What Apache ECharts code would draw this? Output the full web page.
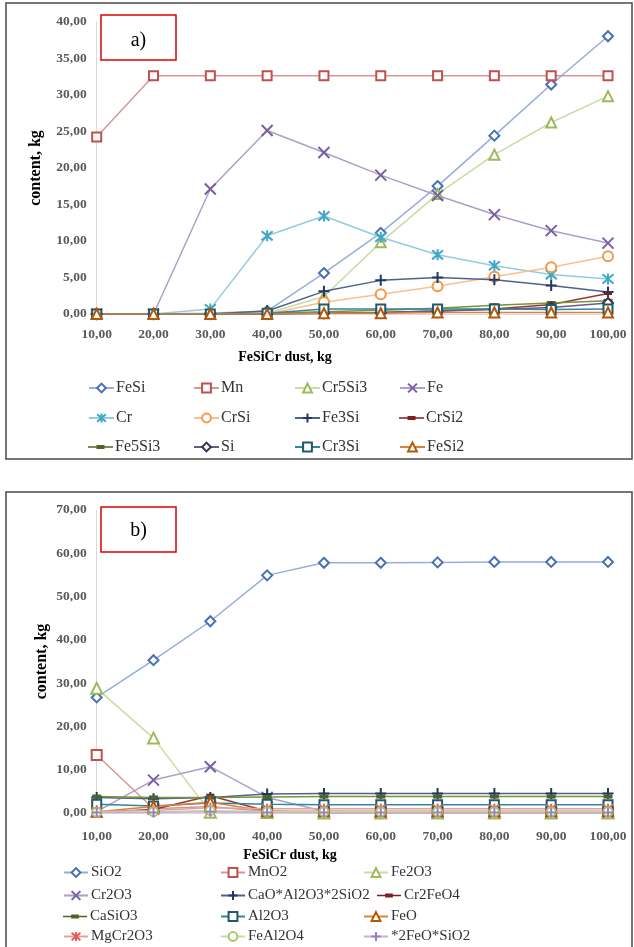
<!DOCTYPE html>
<html><head><meta charset="utf-8">
<script src="https://cdn.jsdelivr.net/npm/echarts@6/dist/echarts.min.js"></script>
<style>html,body{margin:0;padding:0;background:#fff}#c{width:634px;height:947px}</style>
</head><body><div id="c"></div>
<script>
// ---------- DATA ----------
const xLabels = ['10,00','20,00','30,00','40,00','50,00','60,00','70,00','80,00','90,00','100,00'];
const yTicksA = [0,5,10,15,20,25,30,35,40];
const yTicksB = [0,10,20,30,40,50,60,70];

// panel a)
const FeSi   = [0,0,0.1,0.4,5.6,11.1,17.5,24.4,31.4,38.0];
const Mn     = [24.2,32.6,32.6,32.6,32.6,32.6,32.6,32.6,32.6,32.6];
const Cr5Si3 = [0,0,0,0.1,2.4,9.8,16.4,21.8,26.2,29.8];
const Fe     = [0,0,17.1,25.1,22.1,19.0,16.2,13.6,11.4,9.7];
const Cr     = [0,0,0.7,10.7,13.4,10.5,8.1,6.6,5.4,4.8];
const CrSi   = [0,0,0,0,1.6,2.7,3.8,5.1,6.4,7.9];
const Fe3Si  = [0,0,0,0.4,3.1,4.6,5.0,4.7,3.9,3.0];
const CrSi2  = [0,0,0,0,0.1,0.2,0.4,0.7,1.3,2.8];
const Fe5Si3 = [0,0,0,0.1,0.3,0.5,0.8,1.2,1.5,1.8];
const Si     = [0,0,0,0,0.1,0.2,0.4,0.6,0.9,1.5];
const Cr3Si  = [0,0,0,0.1,0.7,0.7,0.7,0.7,0.6,0.7];
const FeSi2  = [0,0,0,0,0.1,0.1,0.2,0.2,0.2,0.2];

// panel b)
const SiO2      = [26.7,35.3,44.3,54.9,57.8,57.8,57.9,58.0,58.0,58.0];
const MnO2      = [13.4,1.0,1.5,0.3,0.2,0.2,0.2,0.2,0.2,0.2];
const Fe2O3     = [28.8,17.3,0.2,0.1,0,0,0,0,0,0];
const Cr2O3     = [0.3,7.6,10.7,3.6,0.4,0.2,0.2,0.2,0.2,0.2];
const CaOAl2O3  = [3.6,3.3,3.6,4.4,4.5,4.5,4.5,4.5,4.5,4.5];
const Cr2FeO4   = [0.2,0.8,4.0,0.4,0.1,0.1,0.1,0.1,0.1,0.1];
const CaSiO3    = [3.8,3.6,3.6,3.7,3.8,3.8,3.8,3.8,3.8,3.8];
const Al2O3     = [2.0,1.6,2.3,2.0,1.9,1.9,1.9,1.9,1.9,1.9];
const FeO       = [0.3,1.5,2.5,0.4,0.4,0.4,0.4,0.4,0.4,0.4];
const MgCr2O3   = [0.4,0.6,1.2,1.0,1.0,1.0,1.0,1.0,1.0,1.0];
const FeAl2O4   = [0.2,0.3,0.6,0.3,0.3,0.3,0.3,0.3,0.3,0.3];
const FeO2SiO2  = [0.1,0.1,0.3,0.1,0.1,0.1,0.1,0.1,0.1,0.1];

const seriesA = [['FeSi',FeSi],['Mn',Mn],['Cr5Si3',Cr5Si3],['Fe',Fe],['Cr',Cr],['CrSi',CrSi],
  ['Fe3Si',Fe3Si],['CrSi2',CrSi2],['Fe5Si3',Fe5Si3],['Si',Si],['Cr3Si',Cr3Si],['FeSi2',FeSi2]];
const seriesB = [['SiO2',SiO2],['MnO2',MnO2],['Fe2O3',Fe2O3],['Cr2O3',Cr2O3],['CaO*Al2O3*2SiO2',CaOAl2O3],
  ['Cr2FeO4',Cr2FeO4],['CaSiO3',CaSiO3],['Al2O3',Al2O3],['FeO',FeO],['MgCr2O3',MgCr2O3],['FeAl2O4',FeAl2O4],['*2FeO*SiO2',FeO2SiO2]];

// ---------- STYLE ----------
const SERIF = '"Liberation Serif","Times New Roman",serif';
const P_X = 'path://M0,0L10,10M10,0L0,10';
const P_AST = 'path://M0,0L10,10M10,0L0,10M5,-1L5,11';
const P_PLUS = 'path://M5,0L5,10M0,5L10,5';
const DASH_ICON = 'path://M0,0L0.01,0L0.01,0.01Z M0,4.3L25,4.3L25,5.7L0,5.7Z M8.5,3L16.5,3L16.5,7L8.5,7Z M0,10L0.01,10L0.01,9.99Z';
// [symbol, markerColor, lineColor, hollow, size]
const styleA = [
  ['diamond','#4A6FB5','#95AEDA',true,10],
  ['rect','#C0504D','#D99694',true,9],
  ['triangle','#9BBB59','#C9DCA3',true,10],
  [P_X,'#7A5FA0','#ADA0C9',false,11],
  [P_AST,'#3FA8C4','#93CDDD',false,11],
  ['circle','#F79646','#FAC090',true,10],
  [P_PLUS,'#1F3864','#4F6288',false,11],
  ['rect','#7B1F1F','#953735',false,[8,3]],
  ['rect','#4F6228','#77933C',false,[9,4]],
  ['diamond','#3F3151','#6A5A85',true,10],
  ['rect','#215968','#31859C',true,9],
  ['triangle','#B65708','#D8823A',true,10]
];
const styleB = [
  ['diamond','#4A6FB5','#95AEDA',true,10],
  ['rect','#C0504D','#D99694',true,10],
  ['triangle','#9BBB59','#C9DCA3',true,11],
  [P_X,'#7A5FA0','#ADA0C9',false,11],
  [P_PLUS,'#1F3864','#4F6288',false,11],
  ['rect','#7B1F1F','#953735',false,[8,4]],
  ['rect','#4F6228','#77933C',false,[9,4]],
  ['rect','#215968','#31859C',true,9],
  ['triangle','#B65708','#D8823A',true,10],
  [P_AST,'#E0605C','#E6A0A0',false,10],
  ['circle','#A6C86A','#C9DCA3',true,9],
  [P_PLUS,'#9A80C0','#C0B2D8',false,10]
];

function mk(def, st, gi) {
  const [sym, mc, lc, hollow, size] = st;
  return {
    type: 'line', name: def[0], data: def[1], xAxisIndex: gi, yAxisIndex: gi,
    symbol: sym, symbolSize: size, showSymbol: true,
    lineStyle: { color: lc, width: 1.5 },
    itemStyle: { color: hollow ? '#ffffff' : mc, borderColor: mc, borderWidth: (sym.indexOf('path') === 0) ? 2 : (hollow ? 2 : 0) },
    emphasis: { disabled: true }, animation: false
  };
}

const fmt = v => v.toFixed(2).replace('.', ',');

const series = [];
seriesA.forEach((d, i) => series.push(mk(d, styleA[i], 0)));
seriesB.forEach((d, i) => series.push(mk(d, styleB[i], 1)));

function legendItem(name, st) {
  return Array.isArray(st[4]) ? { name: name, icon: DASH_ICON } : { name: name };
}

// legend positions
const colsA = [88, 193, 294, 399], rowsA = [388, 418, 447];
const colsB = [63, 220, 363], rowsB = [873, 896, 917, 937];
const legends = [];
seriesA.forEach((d, i) => {
  legends.push({ data: [legendItem(d[0], styleA[i])], left: colsA[i % 4], top: rowsA[Math.floor(i / 4)] - 8, padding: 0,
    itemWidth: 25, itemHeight: 11, selectedMode: false,
    textStyle: { fontFamily: SERIF, fontSize: 16, color: '#333', padding: [0,0,0,-3] } });
});
seriesB.forEach((d, i) => {
  let left = colsB[i % 3];
  if (d[0] === 'Cr2FeO4') left = 377;
  legends.push({ data: [legendItem(d[0], styleB[i])], left: left, top: rowsB[Math.floor(i / 3)] - 8, padding: 0,
    itemWidth: 24, itemHeight: 11, selectedMode: false,
    textStyle: { fontFamily: SERIF, fontSize: 15, color: '#333', padding: [0,0,0,-2] } });
});

const axisLabelStyle = { fontFamily: SERIF, fontWeight: 'bold', fontSize: 13.5, color: '#595959' };

function xAx(gi, margin) {
  return { type: 'category', gridIndex: gi, data: xLabels, boundaryGap: false,
    axisLine: { show: true, lineStyle: { color: '#D9D9D9' } }, axisTick: { show: false },
    axisLabel: Object.assign({ margin: margin }, axisLabelStyle), splitLine: { show: false } };
}
function yAx(gi, ticks) {
  return { type: 'value', gridIndex: gi, min: ticks[0], max: ticks[ticks.length - 1], interval: ticks[1] - ticks[0],
    axisLine: { show: true, lineStyle: { color: '#D9D9D9' } }, axisTick: { show: false },
    axisLabel: Object.assign({ margin: 10, formatter: fmt }, axisLabelStyle), splitLine: { show: false } };
}

const chart = echarts.init(document.getElementById('c'), null, { renderer: 'canvas' });
chart.setOption({
  backgroundColor: '#ffffff',
  animation: false,
  grid: [
    { left: 96.7, right: 26, top: 21.6, height: 292.4 },
    { left: 96.7, right: 26, top: 510, height: 303 }
  ],
  xAxis: [xAx(0, 14), xAx(1, 17)],
  yAxis: [yAx(0, yTicksA), yAx(1, yTicksB)],
  legend: legends,
  series: series,
  graphic: [
    { type: 'rect', shape: { x: 6, y: 3, width: 626, height: 456 }, style: { fill: 'none', stroke: '#4a4a4a', lineWidth: 1.5 }, z: -1 },
    { type: 'rect', shape: { x: 6, y: 492, width: 626, height: 470 }, style: { fill: 'none', stroke: '#4a4a4a', lineWidth: 1.5 }, z: -1 },
    { type: 'rect', shape: { x: 101, y: 15, width: 75, height: 45 }, style: { fill: '#fff', stroke: '#E00000', lineWidth: 1.5 } },
    { type: 'rect', shape: { x: 101, y: 507, width: 75, height: 45 }, style: { fill: '#fff', stroke: '#E00000', lineWidth: 1.5 } },
    { type: 'text', x: 138.5, y: 41, style: { text: 'a)', font: '20px ' + SERIF, fill: '#000', textAlign: 'center', textVerticalAlign: 'middle' } },
    { type: 'text', x: 138.5, y: 531, style: { text: 'b)', font: '20px ' + SERIF, fill: '#000', textAlign: 'center', textVerticalAlign: 'middle' } },
    { type: 'text', x: 285, y: 357, style: { text: 'FeSiCr dust, kg', font: 'bold 14px ' + SERIF, fill: '#000', textAlign: 'center', textVerticalAlign: 'middle' } },
    { type: 'text', x: 290, y: 855, style: { text: 'FeSiCr dust, kg', font: 'bold 14px ' + SERIF, fill: '#000', textAlign: 'center', textVerticalAlign: 'middle' } },
    { type: 'text', x: 36, y: 168, rotation: Math.PI / 2, style: { text: 'content, kg', font: 'bold 16px ' + SERIF, fill: '#000', textAlign: 'center', textVerticalAlign: 'middle' } },
    { type: 'text', x: 42, y: 661.5, rotation: Math.PI / 2, style: { text: 'content, kg', font: 'bold 16px ' + SERIF, fill: '#000', textAlign: 'center', textVerticalAlign: 'middle' } }
  ]
});
</script>
</body></html>
